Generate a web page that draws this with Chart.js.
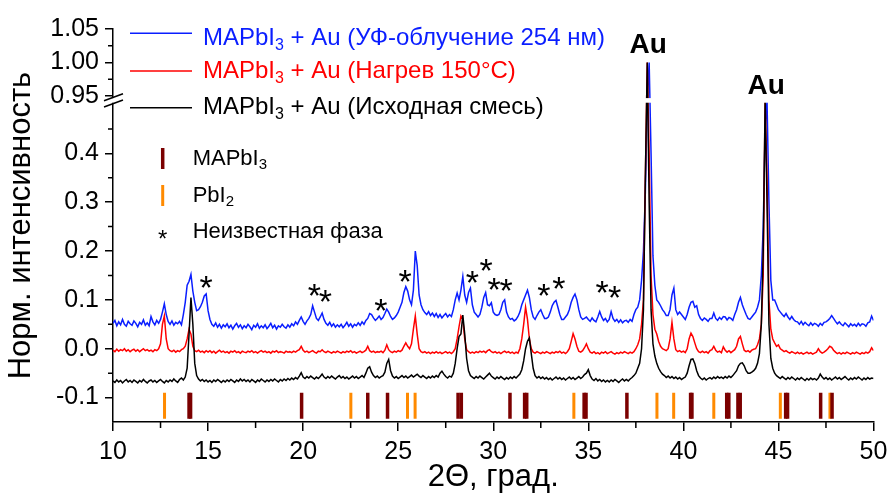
<!DOCTYPE html>
<html>
<head>
<meta charset="utf-8">
<script src="https://cdn.jsdelivr.net/npm/chart.js@4.4.1/dist/chart.umd.min.js"></script>
<style>
html, body { margin: 0; padding: 0; background: #fff; }
#wrap { width: 890px; height: 498px; }
</style>
</head>
<body>
<div id="wrap"><canvas id="xrd" width="890" height="498"></canvas></div>
<script>
// 2Theta grid, degrees
var twoTheta = [
10.0,10.1,10.2,10.3,10.4,10.5,10.6,10.7,10.8,10.9,
11.0,11.1,11.2,11.3,11.4,11.5,11.6,11.7,11.8,11.9,
12.0,12.1,12.2,12.3,12.4,12.5,12.6,12.7,12.8,12.9,
13.0,13.1,13.2,13.3,13.4,13.5,13.6,13.7,13.8,13.9,
14.0,14.1,14.2,14.3,14.4,14.5,14.6,14.7,14.8,14.9,
15.0,15.1,15.2,15.3,15.4,15.5,15.6,15.7,15.8,15.9,
16.0,16.1,16.2,16.3,16.4,16.5,16.6,16.7,16.8,16.9,
17.0,17.1,17.2,17.3,17.4,17.5,17.6,17.7,17.8,17.9,
18.0,18.1,18.2,18.3,18.4,18.5,18.6,18.7,18.8,18.9,
19.0,19.1,19.2,19.3,19.4,19.5,19.6,19.7,19.8,19.9,
20.0,20.1,20.2,20.3,20.4,20.5,20.6,20.7,20.8,20.9,
21.0,21.1,21.2,21.3,21.4,21.5,21.6,21.7,21.8,21.9,
22.0,22.1,22.2,22.3,22.4,22.5,22.6,22.7,22.8,22.9,
23.0,23.1,23.2,23.3,23.4,23.5,23.6,23.7,23.8,23.9,
24.0,24.1,24.2,24.3,24.4,24.5,24.6,24.7,24.8,24.9,
25.0,25.1,25.2,25.3,25.4,25.5,25.6,25.7,25.8,25.9,
26.0,26.1,26.2,26.3,26.4,26.5,26.6,26.7,26.8,26.9,
27.0,27.1,27.2,27.3,27.4,27.5,27.6,27.7,27.8,27.9,
28.0,28.1,28.2,28.3,28.4,28.5,28.6,28.7,28.8,28.9,
29.0,29.1,29.2,29.3,29.4,29.5,29.6,29.7,29.8,29.9,
30.0,30.1,30.2,30.3,30.4,30.5,30.6,30.7,30.8,30.9,
31.0,31.1,31.2,31.3,31.4,31.5,31.6,31.7,31.8,31.9,
32.0,32.1,32.2,32.3,32.4,32.5,32.6,32.7,32.8,32.9,
33.0,33.1,33.2,33.3,33.4,33.5,33.6,33.7,33.8,33.9,
34.0,34.1,34.2,34.3,34.4,34.5,34.6,34.7,34.8,34.9,
35.0,35.1,35.2,35.3,35.4,35.5,35.6,35.7,35.8,35.9,
36.0,36.1,36.2,36.3,36.4,36.5,36.6,36.7,36.8,36.9,
37.0,37.1,37.2,37.3,37.4,37.5,37.6,37.7,37.8,37.9,
38.0,38.1,38.2,38.3,38.4,38.5,38.6,38.7,38.8,38.9,
39.0,39.1,39.2,39.3,39.4,39.5,39.6,39.7,39.8,39.9,
40.0,40.1,40.2,40.3,40.4,40.5,40.6,40.7,40.8,40.9,
41.0,41.1,41.2,41.3,41.4,41.5,41.6,41.7,41.8,41.9,
42.0,42.1,42.2,42.3,42.4,42.5,42.6,42.7,42.8,42.9,
43.0,43.1,43.2,43.3,43.4,43.5,43.6,43.7,43.8,43.9,
44.0,44.1,44.2,44.3,44.4,44.5,44.6,44.7,44.8,44.9,
45.0,45.1,45.2,45.3,45.4,45.5,45.6,45.7,45.8,45.9,
46.0,46.1,46.2,46.3,46.4,46.5,46.6,46.7,46.8,46.9,
47.0,47.1,47.2,47.3,47.4,47.5,47.6,47.7,47.8,47.9,
48.0,48.1,48.2,48.3,48.4,48.5,48.6,48.7,48.8,48.9,
49.0,49.1,49.2,49.3,49.4,49.5,49.6,49.7,49.8,49.9,
50.0];

// MAPbI3 + Au, UV 254 nm
var blueUV = [
0.052,0.058,0.047,0.055,0.049,0.060,0.050,0.046,0.056,0.051,
0.048,0.057,0.052,0.045,0.054,0.050,0.059,0.048,0.053,0.047,
0.066,0.055,0.049,0.058,0.052,0.060,0.075,0.092,0.070,0.056,
0.050,0.057,0.048,0.054,0.051,0.056,0.049,0.070,0.095,0.130,
0.138,0.152,0.118,0.095,0.078,0.080,0.086,0.095,0.108,0.112,
0.078,0.060,0.050,0.046,0.053,0.044,0.050,0.042,0.049,0.045,
0.051,0.043,0.048,0.040,0.047,0.052,0.044,0.049,0.041,0.047,
0.043,0.050,0.045,0.039,0.048,0.044,0.051,0.042,0.047,0.043,
0.049,0.041,0.046,0.052,0.043,0.048,0.040,0.047,0.044,0.050,
0.045,0.042,0.049,0.044,0.051,0.047,0.055,0.050,0.058,0.065,
0.056,0.050,0.057,0.062,0.070,0.088,0.075,0.062,0.058,0.065,
0.073,0.060,0.052,0.048,0.054,0.046,0.051,0.044,0.049,0.045,
0.050,0.043,0.048,0.054,0.046,0.051,0.044,0.050,0.047,0.053,
0.048,0.055,0.050,0.058,0.062,0.072,0.070,0.063,0.058,0.062,
0.067,0.060,0.064,0.072,0.081,0.075,0.066,0.060,0.063,0.068,
0.075,0.085,0.095,0.115,0.127,0.118,0.100,0.090,0.120,0.200,
0.170,0.110,0.090,0.080,0.074,0.070,0.076,0.068,0.073,0.066,
0.072,0.064,0.070,0.063,0.068,0.072,0.065,0.070,0.066,0.080,
0.100,0.114,0.100,0.120,0.148,0.110,0.095,0.115,0.124,0.090,
0.075,0.070,0.065,0.070,0.085,0.105,0.115,0.090,0.088,0.094,
0.075,0.070,0.068,0.070,0.080,0.095,0.100,0.075,0.065,0.060,
0.062,0.057,0.060,0.066,0.075,0.090,0.100,0.110,0.120,0.105,
0.080,0.065,0.060,0.068,0.075,0.080,0.070,0.062,0.062,0.065,
0.075,0.088,0.095,0.099,0.085,0.070,0.060,0.060,0.065,0.070,
0.080,0.095,0.105,0.112,0.100,0.080,0.065,0.060,0.062,0.065,
0.060,0.056,0.063,0.058,0.055,0.065,0.076,0.065,0.058,0.062,
0.055,0.060,0.076,0.062,0.056,0.060,0.054,0.059,0.053,0.057,
0.058,0.054,0.060,0.056,0.070,0.080,0.085,0.100,0.140,0.200,
0.320,0.600,1.000,0.400,0.190,0.130,0.100,0.095,0.088,0.080,
0.075,0.068,0.068,0.080,0.110,0.124,0.080,0.070,0.075,0.070,
0.065,0.060,0.070,0.085,0.095,0.097,0.085,0.088,0.070,0.062,
0.058,0.063,0.060,0.056,0.062,0.062,0.073,0.062,0.058,0.064,
0.060,0.066,0.065,0.059,0.064,0.062,0.058,0.070,0.080,0.095,
0.105,0.090,0.080,0.070,0.062,0.060,0.065,0.070,0.075,0.085,
0.100,0.150,0.250,0.450,0.700,0.300,0.140,0.100,0.100,0.090,
0.080,0.075,0.070,0.066,0.072,0.065,0.060,0.066,0.060,0.056,
0.055,0.050,0.056,0.049,0.054,0.050,0.047,0.053,0.048,0.052,
0.050,0.046,0.052,0.048,0.054,0.055,0.058,0.062,0.068,0.062,
0.056,0.051,0.055,0.050,0.047,0.053,0.049,0.045,0.051,0.047,
0.050,0.046,0.052,0.047,0.051,0.050,0.046,0.053,0.055,0.067,
0.058];

// MAPbI3 + Au, heated 150 C
var redHeat = [
-0.003,-0.006,-0.001,-0.005,-0.002,-0.004,0.000,-0.005,-0.002,-0.006,
-0.003,-0.001,-0.005,-0.002,-0.006,-0.003,0.000,-0.004,-0.002,-0.005,
-0.003,-0.006,-0.002,-0.004,0.000,0.010,0.050,0.067,0.020,0.000,
-0.004,-0.006,-0.003,-0.007,-0.004,-0.006,-0.002,0.000,0.005,0.020,
0.040,0.030,0.005,-0.004,-0.006,-0.003,-0.007,-0.005,-0.008,-0.004,
-0.007,-0.004,-0.008,-0.005,-0.009,-0.006,-0.003,-0.007,-0.005,-0.008,
-0.006,-0.009,-0.005,-0.007,-0.004,-0.008,-0.006,-0.009,-0.005,-0.007,
-0.008,-0.005,-0.007,-0.004,-0.008,-0.006,-0.009,-0.006,-0.004,-0.007,
-0.005,-0.008,-0.006,-0.009,-0.005,-0.007,-0.004,-0.008,-0.006,-0.007,
-0.009,-0.005,-0.007,-0.006,-0.008,-0.005,-0.007,-0.004,-0.002,0.005,
-0.003,-0.007,-0.005,-0.008,-0.006,-0.004,-0.007,-0.009,-0.005,-0.006,
-0.002,-0.006,-0.008,-0.005,-0.007,-0.009,-0.006,-0.008,-0.005,-0.007,
-0.009,-0.006,-0.008,-0.005,-0.007,-0.004,-0.008,-0.006,-0.009,-0.007,
-0.005,-0.008,-0.006,-0.003,0.005,-0.004,-0.007,-0.005,-0.008,-0.006,
-0.007,-0.005,-0.008,-0.003,0.008,-0.002,-0.006,-0.008,-0.005,-0.007,
-0.004,-0.006,-0.003,0.005,0.012,0.005,0.000,0.010,0.040,0.067,
0.030,0.000,-0.006,-0.008,-0.006,-0.009,-0.007,-0.010,-0.007,-0.009,
-0.006,-0.009,-0.007,-0.010,-0.008,-0.006,-0.009,-0.007,-0.010,-0.006,
0.000,0.020,0.045,0.067,0.060,0.020,-0.002,-0.006,-0.009,-0.007,
-0.009,-0.006,-0.008,-0.005,-0.007,-0.005,-0.008,-0.004,-0.002,-0.006,
-0.008,-0.006,-0.009,-0.007,-0.010,-0.007,-0.005,-0.008,-0.006,-0.009,
-0.007,-0.010,-0.007,-0.009,0.000,0.020,0.050,0.085,0.060,0.020,
0.000,-0.007,-0.009,-0.006,-0.008,-0.010,-0.007,-0.009,-0.006,-0.008,
-0.010,-0.007,-0.009,-0.006,-0.008,-0.005,-0.009,-0.007,-0.010,-0.006,
0.000,0.015,0.031,0.020,0.005,-0.005,-0.007,-0.004,0.002,0.010,
0.000,-0.007,-0.009,-0.006,-0.010,-0.008,-0.011,-0.007,-0.009,-0.006,
-0.010,-0.008,-0.006,-0.009,-0.011,-0.008,-0.010,-0.007,-0.009,-0.006,
-0.008,-0.010,-0.007,-0.009,-0.006,0.000,0.008,0.020,0.050,0.100,
0.350,1.000,0.400,0.150,0.070,0.040,0.030,0.015,0.005,0.000,
-0.002,-0.004,0.000,0.020,0.054,0.020,-0.002,-0.006,-0.004,-0.007,
-0.005,-0.008,0.000,0.020,0.032,0.025,0.012,0.000,-0.006,-0.008,
-0.005,-0.008,-0.006,-0.009,-0.004,-0.002,0.005,-0.003,-0.007,-0.005,
-0.008,0.004,-0.003,-0.007,-0.004,-0.008,-0.005,-0.002,0.005,0.020,
0.025,0.010,-0.003,-0.006,-0.004,-0.007,-0.003,-0.001,0.000,0.008,
0.020,0.050,0.150,0.700,0.350,0.100,0.040,0.020,0.012,0.005,
0.008,0.000,-0.003,-0.006,-0.004,-0.007,-0.009,-0.006,-0.008,-0.010,
-0.007,-0.010,-0.008,-0.011,-0.009,-0.007,-0.010,-0.008,-0.011,-0.009,
-0.007,0.000,-0.006,-0.009,-0.007,-0.004,0.000,0.005,0.003,-0.003,
-0.007,-0.010,-0.008,-0.011,-0.008,-0.010,-0.007,-0.009,-0.011,-0.008,
-0.010,-0.007,-0.009,-0.011,-0.008,-0.010,-0.007,-0.009,-0.006,0.002,
-0.004];

// MAPbI3 + Au, initial mixture
var blackMix = [
-0.066,-0.069,-0.064,-0.068,-0.065,-0.070,-0.066,-0.063,-0.068,-0.065,
-0.069,-0.064,-0.067,-0.070,-0.065,-0.068,-0.063,-0.067,-0.070,-0.066,
-0.064,-0.068,-0.065,-0.069,-0.066,-0.063,-0.067,-0.070,-0.065,-0.068,
-0.064,-0.067,-0.062,-0.066,-0.069,-0.063,-0.060,-0.064,-0.058,-0.040,
0.030,0.105,0.050,-0.030,-0.055,-0.062,-0.066,-0.063,-0.067,-0.064,
-0.068,-0.065,-0.069,-0.064,-0.067,-0.063,-0.066,-0.069,-0.065,-0.068,
-0.064,-0.067,-0.063,-0.066,-0.069,-0.064,-0.067,-0.062,-0.066,-0.063,
-0.067,-0.064,-0.068,-0.063,-0.066,-0.069,-0.064,-0.067,-0.062,-0.065,
-0.068,-0.064,-0.067,-0.063,-0.066,-0.062,-0.065,-0.068,-0.063,-0.066,
-0.062,-0.065,-0.061,-0.064,-0.060,-0.063,-0.059,-0.062,-0.056,-0.049,
-0.058,-0.061,-0.057,-0.060,-0.056,-0.059,-0.062,-0.058,-0.061,-0.057,
-0.052,-0.058,-0.061,-0.057,-0.060,-0.056,-0.059,-0.062,-0.058,-0.055,
-0.060,-0.057,-0.061,-0.058,-0.062,-0.059,-0.056,-0.060,-0.057,-0.061,
-0.058,-0.055,-0.059,-0.050,-0.040,-0.037,-0.048,-0.055,-0.059,-0.056,
-0.060,-0.057,-0.055,-0.048,-0.030,-0.022,-0.045,-0.056,-0.060,-0.057,
-0.061,-0.058,-0.055,-0.059,-0.056,-0.060,-0.057,-0.054,-0.058,-0.055,
-0.052,-0.056,-0.059,-0.055,-0.058,-0.061,-0.057,-0.060,-0.056,-0.059,
-0.055,-0.058,-0.050,-0.046,-0.052,-0.057,-0.060,-0.056,-0.058,-0.050,
-0.030,0.000,0.025,0.030,0.069,0.030,-0.020,-0.045,-0.055,-0.058,
-0.061,-0.057,-0.060,-0.056,-0.059,-0.062,-0.058,-0.054,-0.050,-0.056,
-0.059,-0.062,-0.058,-0.061,-0.057,-0.060,-0.063,-0.059,-0.062,-0.058,
-0.061,-0.057,-0.060,-0.056,-0.052,-0.043,-0.025,0.000,0.015,0.022,
-0.010,-0.040,-0.055,-0.060,-0.057,-0.061,-0.058,-0.062,-0.059,-0.063,
-0.060,-0.064,-0.061,-0.058,-0.062,-0.059,-0.063,-0.060,-0.064,-0.061,
-0.058,-0.062,-0.059,-0.063,-0.060,-0.057,-0.061,-0.058,-0.053,-0.050,
-0.043,-0.055,-0.062,-0.065,-0.061,-0.066,-0.063,-0.067,-0.064,-0.068,
-0.065,-0.068,-0.064,-0.067,-0.063,-0.066,-0.069,-0.065,-0.062,-0.066,
-0.063,-0.066,-0.062,-0.059,-0.055,-0.050,-0.040,-0.030,0.000,0.080,
0.350,1.000,0.300,0.080,0.010,-0.015,-0.030,-0.040,-0.047,-0.052,
-0.055,-0.059,-0.056,-0.060,-0.057,-0.061,-0.058,-0.062,-0.059,-0.063,
-0.060,-0.058,-0.050,-0.035,-0.022,-0.021,-0.030,-0.045,-0.055,-0.060,
-0.063,-0.060,-0.064,-0.061,-0.059,-0.062,-0.058,-0.061,-0.057,-0.060,
-0.058,-0.061,-0.057,-0.060,-0.056,-0.059,-0.055,-0.050,-0.045,-0.035,
-0.030,-0.029,-0.035,-0.045,-0.050,-0.050,-0.048,-0.045,-0.040,-0.030,
-0.010,0.050,0.200,0.750,0.300,0.050,-0.020,-0.040,-0.050,-0.055,
-0.058,-0.061,-0.057,-0.060,-0.063,-0.059,-0.062,-0.058,-0.061,-0.064,
-0.060,-0.063,-0.059,-0.062,-0.065,-0.061,-0.064,-0.060,-0.063,-0.061,
-0.064,-0.060,-0.052,-0.058,-0.062,-0.059,-0.063,-0.060,-0.064,-0.061,
-0.058,-0.062,-0.059,-0.063,-0.060,-0.057,-0.061,-0.064,-0.060,-0.063,
-0.059,-0.062,-0.058,-0.061,-0.064,-0.060,-0.063,-0.059,-0.062,-0.060,
-0.061];

// reference reflections, 2Theta
var mapbiRefs = [14.0, 14.08, 19.92, 23.4, 24.44, 28.15, 28.32, 30.88, 31.65, 31.76, 34.78, 34.88,
  37.03, 40.38, 40.45, 42.28, 42.39, 42.87, 42.99, 45.38, 45.48, 47.22, 47.82];
var pbi2Refs = [12.71, 22.51, 25.49, 25.89, 34.24, 38.61, 39.49, 41.6, 45.1, 47.71];
var refLevel = -0.1165;

// unknown phase marks (*)
var starX = [14.9, 20.59, 21.17, 24.09, 25.37, 28.9, 29.63, 30.04, 30.68, 32.66, 33.45, 35.72, 36.39];
var starY = [0.141, 0.124, 0.112, 0.094, 0.154, 0.151, 0.176, 0.137, 0.135, 0.124, 0.139, 0.131, 0.12];

// Au labels
var auX = [38.15, 44.35];
var auY = [1.026, 0.965];

var yMajorTicks = [-0.1, 0, 0.1, 0.2, 0.3, 0.4, 0.95, 1.0, 1.05];
var yMinorTicks = [-0.05, 0.05, 0.15, 0.25, 0.35, 0.45, 0.975, 1.025];
var xMinorTicks = [12.5, 17.5, 22.5, 27.5, 32.5, 37.5, 42.5, 47.5];

// broken y axis: two value ranges and their share of the height
var lowPart = [-0.15, 0.502];
var highPart = [0.948, 1.05];
var lowShare = 0.8104, highShare = 0.1738;

var fontFam = "Arial, 'Liberation Sans', Helvetica, sans-serif";
var blueCol = '#0a1eff', redCol = '#ff0000', maroonCol = '#7b0000', orangeCol = '#ff8a00';

class BrokenScale extends Chart.LinearScale {
  determineDataLimits() {
    this.min = lowPart[0];
    this.max = highPart[1];
  }
  buildTicks() {
    return yMajorTicks.map(function (v) { return { value: v }; });
  }
  getPixelForValue(v) {
    if (v === null || isNaN(v)) return NaN;
    var t;
    if (v <= lowPart[1]) {
      t = (v - lowPart[0]) / (lowPart[1] - lowPart[0]) * lowShare;
    } else if (v >= highPart[0]) {
      t = 1 - (highPart[1] - v) / (highPart[1] - highPart[0]) * highShare;
    } else {
      t = lowShare + (v - lowPart[1]) / (highPart[0] - lowPart[1]) * (1 - lowShare - highShare);
    }
    return this.bottom - t * (this.bottom - this.top);
  }
  getValueForPixel(p) {
    var t = (this.bottom - p) / (this.bottom - this.top);
    if (t <= lowShare) return lowPart[0] + t / lowShare * (lowPart[1] - lowPart[0]);
    if (t >= 1 - highShare) return highPart[1] - (1 - t) / highShare * (highPart[1] - highPart[0]);
    return lowPart[1] + (t - lowShare) / (1 - lowShare - highShare) * (highPart[0] - lowPart[1]);
  }
}
BrokenScale.id = 'broken';
BrokenScale.defaults = {};
Chart.register(BrokenScale);

function series(vals) {
  return vals.map(function (v, i) { return { x: twoTheta[i], y: v }; });
}

function richText(ctx, x, base, parts, size, color) {
  ctx.fillStyle = color;
  ctx.textAlign = 'left';
  ctx.textBaseline = 'alphabetic';
  parts.forEach(function (p) {
    var sub = p[1];
    ctx.font = (sub ? Math.round(size * 0.67) : size) + 'px ' + fontFam;
    ctx.fillText(p[0], x, sub ? base + size * 0.19 : base);
    x += ctx.measureText(p[0]).width;
  });
}

var decor = {
  id: 'decor',
  afterDatasetsDraw: function (chart) {
    var ctx = chart.ctx, area = chart.chartArea, y = chart.scales.y;
    var gTop = y.getPixelForValue(highPart[0]), gBot = y.getPixelForValue(lowPart[1]);
    ctx.save();
    ctx.fillStyle = '#fff';
    ctx.fillRect(area.left - 4, gTop + 0.8, area.right - area.left + 8, gBot - gTop - 1.6);
    ctx.restore();
  },
  afterDraw: function (chart) {
    var ctx = chart.ctx, area = chart.chartArea, x = chart.scales.x, y = chart.scales.y;
    ctx.save();
    ctx.strokeStyle = '#000';
    ctx.lineWidth = 1.5;
    ctx.beginPath();
    yMinorTicks.forEach(function (v) {
      var p = y.getPixelForValue(v);
      ctx.moveTo(area.left, p); ctx.lineTo(area.left - 5, p);
    });
    xMinorTicks.forEach(function (v) {
      var p = x.getPixelForValue(v);
      ctx.moveTo(p, area.bottom); ctx.lineTo(p, area.bottom + 6);
    });
    ctx.stroke();

    // break marks
    [highPart[0], lowPart[1]].forEach(function (v) {
      var p = y.getPixelForValue(v);
      ctx.beginPath();
      ctx.moveTo(area.left - 9, p + 3.5);
      ctx.lineTo(area.left + 10, p - 3.5);
      ctx.stroke();
    });

    // series legend
    var rows = [
      [blueCol, 33.3, 45, ' + Au (УФ-облучение 254 нм)'],
      [redCol, 71, 78.3, ' + Au (Нагрев 150°C)'],
      ['#000', 107.7, 114, ' + Au (Исходная смесь)']
    ];
    rows.forEach(function (r) {
      ctx.strokeStyle = r[0];
      ctx.lineWidth = 1.5;
      ctx.beginPath(); ctx.moveTo(130, r[1]); ctx.lineTo(192, r[1]); ctx.stroke();
      richText(ctx, 203, r[2], [['MAPbI'], ['3', true], [r[3]]], 24, r[0]);
    });

    // phase legend
    ctx.lineWidth = 3.5;
    ctx.strokeStyle = maroonCol;
    ctx.beginPath(); ctx.moveTo(162.7, 148); ctx.lineTo(162.7, 169); ctx.stroke();
    ctx.lineWidth = 3;
    ctx.strokeStyle = orangeCol;
    ctx.beginPath(); ctx.moveTo(162.7, 185); ctx.lineTo(162.7, 206); ctx.stroke();
    richText(ctx, 192.7, 165, [['MAPbI'], ['3', true]], 22, '#000');
    richText(ctx, 192.7, 202, [['PbI'], ['2', true]], 22, '#000');
    richText(ctx, 192.7, 237.7, [['Неизвестная фаза']], 22, '#000');
    ctx.font = '24px ' + fontFam;
    ctx.textAlign = 'center';
    ctx.fillText('*', 162.7, 233 + 0.568 * 24);

    // unknown phase stars
    ctx.font = '34px ' + fontFam;
    ctx.fillStyle = '#000';
    starX.forEach(function (sx, i) {
      ctx.fillText('*', x.getPixelForValue(sx), y.getPixelForValue(starY[i]) + 0.568 * 34);
    });

    // Au labels
    ctx.font = 'bold 28px ' + fontFam;
    ctx.textBaseline = 'middle';
    auX.forEach(function (ax, i) {
      ctx.fillText('Au', x.getPixelForValue(ax), y.getPixelForValue(auY[i]));
    });
    ctx.restore();
  }
};

var lineStyle = { pointRadius: 0, borderWidth: 1.5, tension: 0, fill: false };

new Chart(document.getElementById('xrd'), {
  type: 'line',
  data: {
    datasets: [
      Object.assign({ label: 'MAPbI3 + Au (Исходная смесь)', data: series(blackMix), borderColor: '#000' }, lineStyle),
      Object.assign({ label: 'MAPbI3 + Au (Нагрев 150°C)', data: series(redHeat), borderColor: redCol }, lineStyle),
      Object.assign({ label: 'MAPbI3 + Au (УФ-облучение 254 нм)', data: series(blueUV), borderColor: blueCol }, lineStyle),
      {
        type: 'scatter', label: 'MAPbI3',
        data: mapbiRefs.map(function (r) { return { x: r, y: refLevel }; }),
        pointStyle: 'line', pointRotation: 90, pointRadius: 13,
        pointBorderWidth: 3.5, pointBorderColor: maroonCol, borderColor: maroonCol
      },
      {
        type: 'scatter', label: 'PbI2',
        data: pbi2Refs.map(function (r) { return { x: r, y: refLevel }; }),
        pointStyle: 'line', pointRotation: 90, pointRadius: 13,
        pointBorderWidth: 3, pointBorderColor: orangeCol, borderColor: orangeCol
      }
    ]
  },
  options: {
    responsive: false,
    animation: false,
    devicePixelRatio: 1,
    layout: { padding: { top: 29, right: 16, left: 0, bottom: 0 } },
    plugins: { legend: { display: false }, tooltip: { enabled: false } },
    scales: {
      x: {
        type: 'linear', min: 10, max: 50,
        afterFit: function (s) { s.height = 76; s.paddingLeft = 0; s.paddingRight = 0; },
        border: { display: true, color: '#000', width: 1.5 },
        grid: { drawOnChartArea: false, drawTicks: true, tickLength: 9, color: '#000', lineWidth: 1.5 },
        ticks: { stepSize: 5, padding: 6, color: '#000', autoSkip: false, maxRotation: 0, font: { family: fontFam, size: 25 } },
        title: { display: true, text: '2Θ, град.', color: '#000', font: { family: fontFam, size: 31 }, padding: { top: 0, bottom: 2 } }
      },
      y: {
        type: 'broken', position: 'left',
        afterFit: function (s) { s.width = 113; s.paddingTop = 0; s.paddingBottom = 0; },
        border: { display: true, color: '#000', width: 1.5 },
        grid: { drawOnChartArea: false, drawTicks: true, tickLength: 8, color: '#000', lineWidth: 1.5 },
        ticks: {
          autoSkip: false, padding: 6, color: '#000', font: { family: fontFam, size: 25 },
          callback: function (v) { return v > 0.9 ? v.toFixed(2) : v.toFixed(1); }
        },
        title: { display: true, text: 'Норм. интенсивность', color: '#000', font: { family: fontFam, size: 31 }, padding: { top: 3, bottom: 0 } }
      }
    }
  },
  plugins: [decor]
});
</script>
</body>
</html>
